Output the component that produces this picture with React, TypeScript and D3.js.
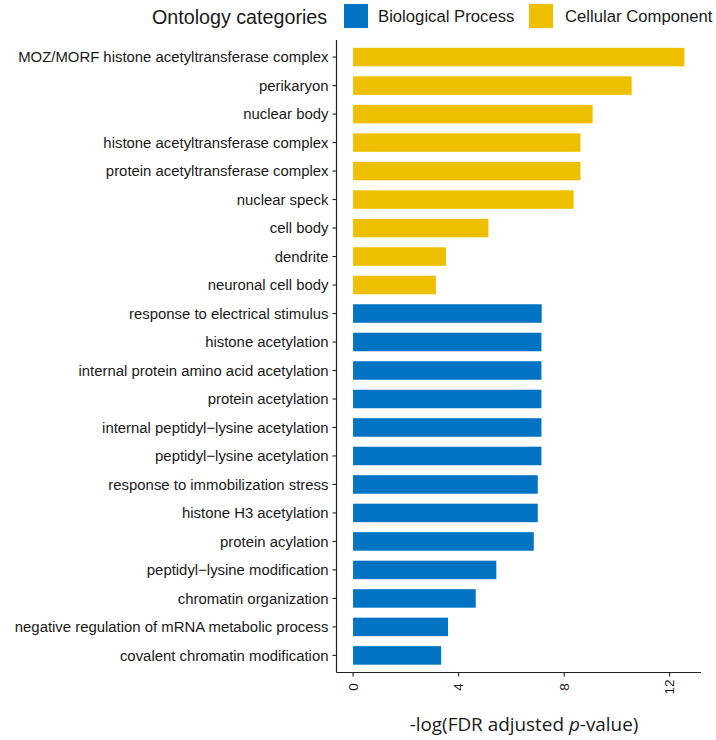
import React from "react";
import * as d3 from "d3";

const terms: string[] = [
  "MOZ/MORF histone acetyltransferase complex",
  "perikaryon",
  "nuclear body",
  "histone acetyltransferase complex",
  "protein acetyltransferase complex",
  "nuclear speck",
  "cell body",
  "dendrite",
  "neuronal cell body",
  "response to electrical stimulus",
  "histone acetylation",
  "internal protein amino acid acetylation",
  "protein acetylation",
  "internal peptidyl\u2212lysine acetylation",
  "peptidyl\u2212lysine acetylation",
  "response to immobilization stress",
  "histone H3 acetylation",
  "protein acylation",
  "peptidyl\u2212lysine modification",
  "chromatin organization",
  "negative regulation of mRNA metabolic process",
  "covalent chromatin modification",
];

const values: number[] = [
  12.56, 10.56, 9.08, 8.62, 8.62, 8.36, 5.13, 3.52, 3.14,
  7.15, 7.14, 7.14, 7.14, 7.14, 7.14, 7.0, 7.0, 6.85, 5.43, 4.65, 3.6, 3.34,
];

const categories: string[] = [
  "Cellular Component", "Cellular Component", "Cellular Component", "Cellular Component",
  "Cellular Component", "Cellular Component", "Cellular Component", "Cellular Component",
  "Cellular Component",
  "Biological Process", "Biological Process", "Biological Process", "Biological Process",
  "Biological Process", "Biological Process", "Biological Process", "Biological Process",
  "Biological Process", "Biological Process", "Biological Process", "Biological Process",
  "Biological Process",
];

const legendKeys: string[] = ["Biological Process", "Cellular Component"];
const legendColors: string[] = ["#0073C2", "#EFC000"];
const xTicks: number[] = [0, 4, 8, 12];

export default function App() {
  const W = 716;
  const H = 740;
  const left = 336.5;
  const right = 701;
  const top = 40;
  const bottom = 672.5;

  const maxV = d3.max(values) as number;
  const pad = 0.05 * maxV;
  const x = d3.scaleLinear().domain([-pad, maxV + pad]).range([left, right]);
  const y = d3.scalePoint<string>().domain(terms).range([top, bottom]).padding(0.6);
  const step = y.step();
  const barH = step * 0.65;
  const color = d3.scaleOrdinal<string, string>().domain(legendKeys).range(legendColors);

  const labelFont = "'Liberation Sans', Arial, Helvetica, sans-serif";

  return (
    <svg
      width={W}
      height={H}
      style={{ position: "absolute", left: 0, top: 0, background: "#fff" }}
    >
      {/* legend */}
      <g fontFamily={labelFont} fill="#1a1a1a">
        <text x={152} y={24} fontSize={19.7}>Ontology categories</text>
        <rect x={344} y={4} width={24} height={24} fill={color("Biological Process")} />
        <text x={378} y={21.5} fontSize={16.7}>Biological Process</text>
        <rect x={529} y={4} width={24} height={24} fill={color("Cellular Component")} />
        <text x={565} y={21.5} fontSize={16.7}>Cellular Component</text>
      </g>

      {/* bars */}
      <g>
        {terms.map((t, i) => (
          <rect
            key={t}
            x={x(0)}
            y={(y(t) as number) - barH / 2}
            width={x(values[i]) - x(0)}
            height={barH}
            fill={color(categories[i])}
          />
        ))}
      </g>

      {/* y axis */}
      <g fontFamily={labelFont} fontSize={14.9} fill="#1a1a1a">
        <line x1={left} x2={left} y1={top} y2={bottom} stroke="#222" strokeWidth={1.2} />
        {terms.map((t) => (
          <g key={t}>
            <line x1={left - 4} x2={left} y1={y(t)} y2={y(t)} stroke="#222" strokeWidth={1.1} />
            <text x={328.5} y={y(t)} dy="0.35em" textAnchor="end">{t}</text>
          </g>
        ))}
      </g>

      {/* x axis */}
      <g fontFamily={labelFont} fontSize={13.5} fill="#1a1a1a">
        <line x1={left} x2={right} y1={bottom} y2={bottom} stroke="#222" strokeWidth={1.2} />
        {xTicks.map((v) => (
          <g key={v}>
            <line x1={x(v)} x2={x(v)} y1={bottom} y2={bottom + 4} stroke="#222" strokeWidth={1.1} />
            <text
              transform={`translate(${x(v)},${687}) rotate(-90)`}
              textAnchor="middle"
              dy="0.35em"
            >
              {v}
            </text>
          </g>
        ))}
      </g>

      <text
        x={524}
        y={731}
        textAnchor="middle"
        fontFamily="'Open Sans', sans-serif"
        fontSize={18.9}
        fill="#1a1a1a"
      >
        -log(FDR adjusted <tspan fontStyle="italic">p</tspan>-value)
      </text>
    </svg>
  );
}
